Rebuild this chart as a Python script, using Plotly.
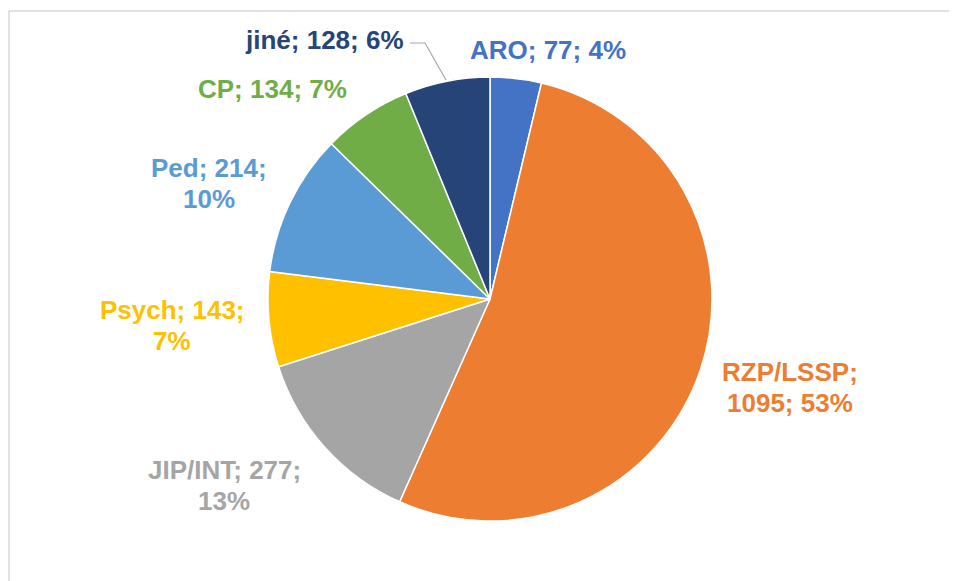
import plotly.graph_objects as go

W, H = 957, 581
OFF = 8  # page body margin offset

categories = ["ARO", "RZP/LSSP", "JIP/INT", "Psych", "Ped", "CP", "jiné"]
values = [77, 1095, 277, 143, 214, 134, 128]
percents = ["4%", "53%", "13%", "7%", "10%", "7%", "6%"]
colors = ["#4472C4", "#ED7D31", "#A5A5A5", "#FFC000", "#5B9BD5", "#70AD47", "#264478"]

# label layout: center x px, center y of first line px, split style
label_pos = {
    "ARO": (548, 50, None),
    "RZP/LSSP": (790, 372, "name"),
    "JIP/INT": (224, 470, "value"),
    "Psych": (172, 310, "value"),
    "Ped": (209, 168, "value"),
    "CP": (272, 89, None),
    "jiné": (324, 40, None),
}
LINE_GAP = 31

def fx(x):
    return (x - OFF) / W

def fy(y):
    return 1 - (y - OFF) / H

fig = go.Figure(go.Pie(
    labels=categories,
    values=values,
    sort=False,
    direction="clockwise",
    rotation=0,
    marker=dict(colors=colors, line=dict(color="white", width=1.5)),
    textinfo="none",
    hoverinfo="label+value+percent",
    domain=dict(x=[fx(268), fx(712)], y=[fy(521), fy(77)]),
    showlegend=False,
))

annotations = []
for cat, val, pct, col in zip(categories, values, percents, colors):
    cx, cy, split = label_pos[cat]
    if split == "name":
        lines = [f"{cat};", f"{val}; {pct}"]
    elif split == "value":
        lines = [f"{cat}; {val};", pct]
    else:
        lines = [f"{cat}; {val}; {pct}"]
    for i, ln in enumerate(lines):
        annotations.append(dict(
            x=fx(cx), y=fy(cy + i * LINE_GAP), xref="paper", yref="paper",
            text=f"<b>{ln}</b>", showarrow=False,
            xanchor="center", yanchor="middle", align="center",
            font=dict(family="Liberation Sans, Arial", size=26, color=col),
        ))

border_x = 1 / W
shapes = [
    dict(type="line", xref="paper", yref="paper", x0=border_x, x1=1.02, y0=fy(11), y1=fy(11),
         line=dict(color="#D9D9D9", width=1.5)),
    dict(type="line", xref="paper", yref="paper", x0=border_x, x1=border_x, y0=-0.02, y1=fy(11),
         line=dict(color="#D9D9D9", width=1.5)),
    dict(type="path", xref="paper", yref="paper",
         path=f"M {fx(410)},{fy(43)} L {fx(425)},{fy(43)} L {fx(446)},{fy(80)}",
         line=dict(color="#A6A6A6", width=1.2)),
]

fig.update_layout(
    width=W, height=H,
    margin=dict(l=0, r=0, t=0, b=0),
    paper_bgcolor="white",
    plot_bgcolor="white",
    annotations=annotations,
    shapes=shapes,
)

fig.write_html("out.html")
